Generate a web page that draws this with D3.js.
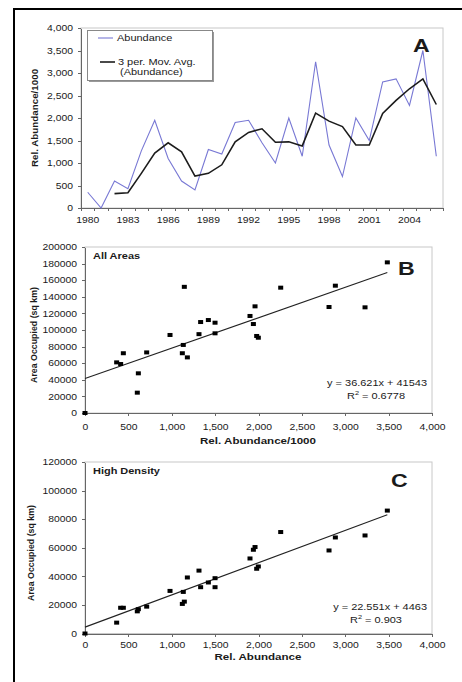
<!DOCTYPE html>
<html>
<head>
<meta charset="utf-8">
<script src="https://cdn.jsdelivr.net/npm/d3@7"></script>
<style>
body { margin: 0; background: #fff; }
svg text { font-family: "Liberation Sans", Arial, sans-serif; fill: #1a1a1a; }
.axis path, .axis line { stroke: #666; shape-rendering: crispEdges; }
</style>
</head>
<body>
<div id="chart"></div>
<script>
// panel A: yearly abundance and its 3 period moving average
var years = [1980, 1981, 1982, 1983, 1984, 1985, 1986, 1987, 1988, 1989, 1990, 1991, 1992, 1993,
    1994, 1995, 1996, 1997, 1998, 1999, 2000, 2001, 2002, 2003, 2004, 2005, 2006];
var yearLabels = [1980, 1983, 1986, 1989, 1992, 1995, 1998, 2001, 2004];
var abundance = [350, 0, 600, 430, 1270, 1950, 1100, 600, 400, 1300, 1200, 1900, 1950, 1450,
    1000, 2000, 1150, 3250, 1400, 700, 2000, 1500, 2800, 2870, 2280, 3500, 1150];
var movingAvg = [null, null, 320, 340, 770, 1220, 1450, 1250, 710, 770, 960, 1470, 1680, 1760,
    1460, 1470, 1380, 2110, 1930, 1810, 1400, 1400, 2100, 2390, 2650, 2870, 2300];
var yTicksA = [0, 500, 1000, 1500, 2000, 2500, 3000, 3500, 4000];

// panels B and C: area occupied against relative abundance
var relAbundance = [0, 365, 411, 442, 603, 615, 711, 980, 1122, 1133, 1145, 1180, 1314, 1333,
    1422, 1499, 1499, 1902, 1941, 1960, 1979, 1998, 2256, 2813, 2886, 3228, 3485];
var areaAllAreas = [0, 61000, 59000, 72000, 24500, 47800, 73000, 94000, 72000, 82000, 152000, 67000, 95000, 109600,
    112000, 108800, 96000, 116900, 107200, 128500, 92800, 90700, 151000, 127700, 153400, 127300, 181500];
var areaHighDensity = [0, 7600, 18000, 18000, 15500, 17000, 18800, 29800, 20700, 29100, 22300, 39200, 44000, 32400,
    35700, 38700, 32400, 52500, 58600, 60500, 45300, 46900, 71000, 58100, 67200, 68600, 86000];
var trendAll = [36.621, 41543];
var trendHigh = [22.551, 4463];
var xTicksBC = [0, 500, 1000, 1500, 2000, 2500, 3000, 3500, 4000];
var yTicksB = [0, 20000, 40000, 60000, 80000, 100000, 120000, 140000, 160000, 180000, 200000];
var yTicksC = [0, 20000, 40000, 60000, 80000, 100000, 120000];

var SX = 1.22; // the scanned figure has horizontally stretched lettering

var svg = d3.select("#chart").append("svg")
    .attr("width", 462)
    .attr("height", 682);

svg.append("rect")
    .attr("width", 462).attr("height", 682)
    .attr("fill", "#fff");

// frame round the figure (right and bottom fall off the page)
svg.append("rect")
    .attr("x", 14).attr("y", 9)
    .attr("width", 470).attr("height", 700)
    .attr("fill", "none")
    .attr("stroke", "#000")
    .attr("stroke-width", 2);

function stretchText(sel){
    sel.each(function(){
        var t = d3.select(this);
        var x = +t.attr("x") || 0;
        t.attr("x", x / SX).attr("transform", "scale(" + SX + ",1)");
    });
}

function addText(x, y, str, size, weight, anchor){
    var t = svg.append("text")
        .attr("x", x).attr("y", y)
        .attr("font-size", size)
        .attr("font-weight", weight || "normal")
        .attr("text-anchor", anchor || "start")
        .text(str);
    stretchText(t);
    return t;
}

function addVerticalTitle(x, y, str, size, weight){
    svg.append("text")
        .attr("transform", "translate(" + x + "," + y + ") rotate(-90)")
        .attr("font-size", size)
        .attr("font-weight", weight)
        .attr("text-anchor", "middle")
        .attr("fill", "#111")
        .text(str);
}

function styleTickText(g, size, yOffset){
    g.selectAll("text").attr("font-size", size).attr("fill", "#222");
    if (yOffset !== undefined) {
        g.selectAll("text").attr("y", yOffset).attr("dy", null);
    }
    stretchText(g.selectAll("text"));
}

drawPanelA();
drawScatter({
    top: 247, bottom: 413, yMax: 200000, yTicks: yTicksB, labelOffset: 17,
    ys: areaAllAreas, trend: trendAll,
    name: "All Areas", letter: "B", letterX: 398, letterY: 275,
    eq: "y = 36.621x + 41543", r2: "0.6778", eqY: 386,
    xTitle: "Rel. Abundance/1000", xTitleY: 444, yTitleX: 37, yTitleY: 335
});
drawScatter({
    top: 462, bottom: 633.5, yMax: 120000, yTicks: yTicksC, labelOffset: 15,
    ys: areaHighDensity, trend: trendHigh,
    name: "High Density", letter: "C", letterX: 391, letterY: 487,
    eq: "y = 22.551x + 4463", r2: "0.903", eqY: 610,
    xTitle: "Rel. Abundance", xTitleY: 660, yTitleX: 34, yTitleY: 553
});

function drawPanelA(){
    var left = 81, right = 443, top = 28, bottom = 208;
    var x = d3.scaleBand().domain(years).range([left, right]);
    var xEdge = d3.scaleLinear().domain([0, years.length]).range([left, right]);
    var y = d3.scaleLinear().domain([0, 4000]).range([bottom, top]);

    svg.append("rect")
        .attr("x", left).attr("y", top)
        .attr("width", right - left).attr("height", bottom - top)
        .attr("fill", "none").attr("stroke", "#c8c8c8");

    // tick marks sit between the categories, labels every third year
    svg.append("g").attr("class", "axis")
        .attr("transform", "translate(0," + bottom + ")")
        .call(d3.axisBottom(xEdge).tickValues(d3.range(years.length + 1)).tickSize(3).tickSizeOuter(0).tickFormat(""));
    var gxl = svg.append("g")
        .attr("transform", "translate(0," + bottom + ")")
        .call(d3.axisBottom(x).tickValues(yearLabels).tickSize(0));
    gxl.select(".domain").remove();
    styleTickText(gxl, 8.5, 15);

    var gy = svg.append("g").attr("class", "axis")
        .attr("transform", "translate(" + left + ",0)")
        .call(d3.axisLeft(y).tickValues(yTicksA).tickSize(3).tickSizeOuter(0).tickPadding(5).tickFormat(d3.format(",")));
    styleTickText(gy, 8.5);

    var cx = function(d, i){ return x(years[i]) + x.bandwidth() / 2; };

    svg.append("path")
        .datum(abundance)
        .attr("fill", "none")
        .attr("stroke", "#7878d4")
        .attr("stroke-width", 1.1)
        .attr("d", d3.line().x(cx).y(function(d){ return y(d); }));

    svg.append("path")
        .datum(movingAvg)
        .attr("fill", "none")
        .attr("stroke", "#1c1c1c")
        .attr("stroke-width", 1.6)
        .attr("d", d3.line().defined(function(d){ return d !== null; }).x(cx).y(function(d){ return y(d); }));

    // legend
    svg.append("rect")
        .attr("x", 89).attr("y", 32).attr("width", 125).attr("height", 50)
        .attr("fill", "#999");
    svg.append("rect")
        .attr("x", 87.5).attr("y", 30.5).attr("width", 125).attr("height", 50)
        .attr("fill", "#fff").attr("stroke", "#888");
    svg.append("line")
        .attr("x1", 98).attr("x2", 113).attr("y1", 38).attr("y2", 38)
        .attr("stroke", "#7878d4").attr("stroke-width", 1.1);
    addText(117, 41, "Abundance", 9);
    svg.append("line")
        .attr("x1", 100).attr("x2", 115).attr("y1", 62).attr("y2", 62)
        .attr("stroke", "#1c1c1c").attr("stroke-width", 1.6);
    addText(118, 65, "3 per. Mov. Avg.", 9);
    addText(120, 75.5, "(Abundance)", 9);

    addText(413, 52, "A", 19, "bold");
    addVerticalTitle(38, 118, "Rel. Abundance/1000", 9.8, "bold");
}

function drawScatter(cfg){
    var left = 85, right = 432;
    var x = d3.scaleLinear().domain([0, 4000]).range([left, right]);
    var y = d3.scaleLinear().domain([0, cfg.yMax]).range([cfg.bottom, cfg.top]);

    svg.append("rect")
        .attr("x", left).attr("y", cfg.top)
        .attr("width", right - left).attr("height", cfg.bottom - cfg.top)
        .attr("fill", "none").attr("stroke", "#c8c8c8");

    var gx = svg.append("g").attr("class", "axis")
        .attr("transform", "translate(0," + cfg.bottom + ")")
        .call(d3.axisBottom(x).tickValues(xTicksBC).tickSize(3).tickSizeOuter(0).tickFormat(d3.format(",")));
    styleTickText(gx, 8.5, cfg.labelOffset);

    var gy = svg.append("g").attr("class", "axis")
        .attr("transform", "translate(" + left + ",0)")
        .call(d3.axisLeft(y).tickValues(cfg.yTicks).tickSize(3).tickSizeOuter(0).tickPadding(5).tickFormat(d3.format("d")));
    styleTickText(gy, 8.5);

    // linear trend line over the range of the data
    var xMax = d3.max(relAbundance);
    svg.append("line")
        .attr("x1", x(0)).attr("y1", y(cfg.trend[1]))
        .attr("x2", x(xMax)).attr("y2", y(cfg.trend[0] * xMax + cfg.trend[1]))
        .attr("stroke", "#222").attr("stroke-width", 1.1);

    svg.append("g").selectAll("rect")
        .data(relAbundance)
        .enter()
        .append("rect")
        .attr("x", function(d){ return x(d) - 2.5; })
        .attr("y", function(d, i){ return y(cfg.ys[i]) - 2; })
        .attr("width", 5).attr("height", 4)
        .attr("fill", "#000");

    addText(93, cfg.top + 12, cfg.name, 9, "bold");
    addText(cfg.letterX, cfg.letterY, cfg.letter, 19, "bold");
    addText(427, cfg.eqY, cfg.eq, 9, "normal", "end");
    var r2 = addText(376, cfg.eqY + 13, "R", 9, "normal", "middle");
    r2.append("tspan").attr("font-size", 6).attr("dy", -3.5).text("2");
    r2.append("tspan").attr("dy", 3.5).text(" = " + cfg.r2);

    addText(258, cfg.xTitleY, cfg.xTitle, 9.5, "bold", "middle");
    addVerticalTitle(cfg.yTitleX, cfg.yTitleY, "Area Occupied (sq km)", 8.8, "bold");
}
</script>
</body>
</html>
